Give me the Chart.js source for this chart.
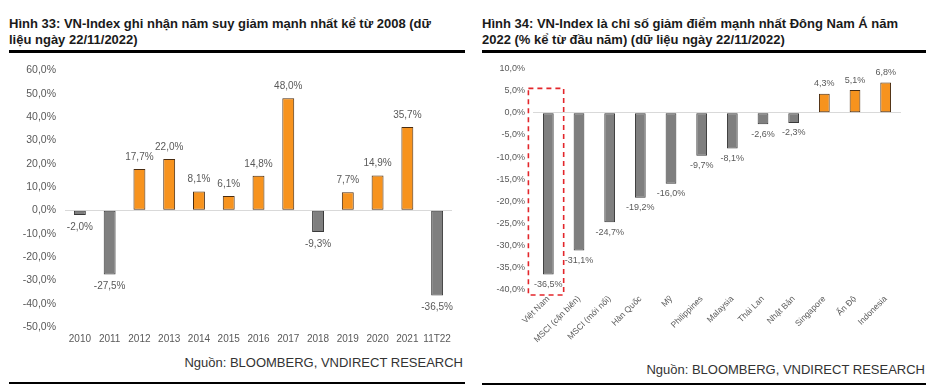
<!DOCTYPE html>
<html>
<head>
<meta charset="utf-8">
<script src="https://cdn.jsdelivr.net/npm/chart.js@4.4.0/dist/chart.umd.min.js"></script>
<style>
  html, body { margin: 0; padding: 0; background: #fff; }
  body { width: 933px; height: 387px; position: relative; overflow: hidden; font-family: "Liberation Sans", Arial, sans-serif; }
  .title { position: absolute; font-weight: bold; font-size: 13px; line-height: 16px; color: #1a1a1a; white-space: nowrap; }
  .rule { position: absolute; height: 3px; background: #000; }
  .thin { position: absolute; height: 1.5px; background: #000; }
  .src { position: absolute; font-size: 13px; color: #333; white-space: nowrap; text-align: right; }
  .box { position: absolute; }
</style>
</head>
<body>
<div class="title" style="left:9px; top:16px;">Hình 33: VN-Index ghi nhận năm suy giảm mạnh nhất kể từ 2008 (dữ<br>liệu ngày 22/11/2022)</div>
<div class="rule" style="left:9px; width:456px; top:50px;"></div>
<div class="title" style="left:482px; top:16px;">Hình 34: VN-Index là chỉ số giảm điểm mạnh nhất Đông Nam Á năm<br>2022 (% kể từ đầu năm) (dữ liệu ngày 22/11/2022)</div>
<div class="rule" style="left:482px; width:444px; top:50px;"></div>

<div class="box" style="left:0px; top:55px; width:470px; height:300px;"><canvas id="c1"></canvas></div>
<div class="box" style="left:470px; top:55px; width:463px; height:300px;"><canvas id="c2"></canvas></div>

<div class="src" style="right:470px; top:355px;">Nguồn: BLOOMBERG, VNDIRECT RESEARCH</div>
<div class="thin" style="left:9px; width:456px; top:382px;"></div>
<div class="src" style="right:8px; top:362px;">Nguồn: BLOOMBERG, VNDIRECT RESEARCH</div>
<div class="thin" style="left:482px; width:444px; top:383px;"></div>

<script>
// ---- Data: Hình 33 ----
const years = ["2010","2011","2012","2013","2014","2015","2016","2017","2018","2019","2020","2021","11T22"];
const vnIndexReturns = [-2.0, -27.5, 17.7, 22.0, 8.1, 6.1, 14.8, 48.0, -9.3, 7.7, 14.9, 35.7, -36.5];
const leftTicks = { min: -50, max: 60, step: 10 };

// ---- Data: Hình 34 ----
const markets = ["Việt Nam","MSCI (cận biên)","MSCI (mới nổi)","Hàn Quốc","Mỹ","Philippines","Malaysia","Thái Lan","Nhật Bản","Singapore","Ấn Độ","Indonesia"];
const ytdReturns = [-36.5, -31.1, -24.7, -19.2, -16.0, -9.7, -8.1, -2.6, -2.3, 4.3, 5.1, 6.8];
const rightTicks = { min: -40, max: 10, step: 5 };

const ORANGE = '#F7931E', ORANGE_B = '#4a2c10';
const GREY = '#7F7F7F', GREY_B = '#3a3a3a';
const TXT = '#595959';

function fmt(v) { return v.toFixed(1).replace('.', ',') + '%'; }

function labelPlugin(fontSize, gap) {
  return {
    id: 'valLabels',
    afterDatasetsDraw(chart) {
      const ctx = chart.ctx;
      const ds = chart.data.datasets[0];
      const meta = chart.getDatasetMeta(0);
      ctx.save();
      ctx.font = fontSize + 'px "Liberation Sans", Arial, sans-serif';
      ctx.fillStyle = TXT;
      ctx.textAlign = 'center';
      ctx.textBaseline = 'middle';
      meta.data.forEach((el, i) => {
        const v = ds.data[i];
        const y = v >= 0 ? el.y - gap : el.y + gap;
        ctx.fillText(fmt(v), el.x, y);
      });
      ctx.restore();
    }
  };
}

function zeroGrid(c) { return c.tick && c.tick.value === 0 ? '#d9d9d9' : 'rgba(0,0,0,0)'; }

// Chart 1
new Chart(document.getElementById('c1'), {
  type: 'bar',
  data: {
    labels: years,
    datasets: [{
      data: vnIndexReturns,
      backgroundColor: vnIndexReturns.map(v => v >= 0 ? ORANGE : GREY),
      borderColor: vnIndexReturns.map(v => v >= 0 ? ORANGE_B : GREY_B),
      borderWidth: 1,
      borderSkipped: false,
      categoryPercentage: 1,
      barPercentage: 0.4
    }]
  },
  options: {
    responsive: true, maintainAspectRatio: false, animation: false,
    layout: { padding: { top: 15, right: 18, bottom: 0, left: 0 } },
    plugins: { legend: { display: false }, tooltip: { enabled: false } },
    scales: {
      x: {
        grid: { display: false, drawTicks: false }, border: { display: false },
        ticks: { color: TXT, padding: 6, font: { size: 10, family: '"Liberation Sans", Arial' }, maxRotation: 0, autoSkip: false },
        afterFit(s) { s.height = 28; }
      },
      y: {
        min: leftTicks.min, max: leftTicks.max,
        grid: { color: zeroGrid, drawTicks: false, lineWidth: 1 }, border: { display: false },
        ticks: { stepSize: leftTicks.step, color: TXT, padding: 9, font: { size: 10.5, family: '"Liberation Sans", Arial' }, callback: v => fmt(v) },
        afterFit(s) { s.width = 65; }
      }
    }
  },
  plugins: [labelPlugin(10, 12)]
});

// Chart 2
const boxPlugin = {
  id: 'redBox',
  afterDraw(chart) {
    const x = chart.scales.x, y = chart.scales.y, ctx = chart.ctx;
    const cx = x.getPixelForValue(0);
    const cw = x.width / markets.length;
    const left = cx - cw * 0.65, right = cx + cw * 0.5;
    const top = y.getPixelForValue(5.5), bottom = chart.chartArea.bottom + 5;
    ctx.save();
    ctx.strokeStyle = '#E3262B';
    ctx.lineWidth = 1.6;
    ctx.setLineDash([5, 4]);
    ctx.strokeRect(left, top, right - left, bottom - top);
    ctx.restore();
  }
};

new Chart(document.getElementById('c2'), {
  type: 'bar',
  data: {
    labels: markets,
    datasets: [{
      data: ytdReturns,
      backgroundColor: ytdReturns.map(v => v >= 0 ? ORANGE : GREY),
      borderColor: ytdReturns.map(v => v >= 0 ? ORANGE_B : GREY_B),
      borderWidth: 1,
      borderSkipped: false,
      categoryPercentage: 1,
      barPercentage: 0.35
    }]
  },
  options: {
    responsive: true, maintainAspectRatio: false, animation: false,
    layout: { padding: { top: 11, right: 32, bottom: 0, left: 0 } },
    plugins: { legend: { display: false }, tooltip: { enabled: false } },
    scales: {
      x: {
        grid: { display: false, drawTicks: false }, border: { display: false },
        ticks: { color: TXT, padding: 4, font: { size: 8.5, family: '"Liberation Sans", Arial' }, minRotation: 45, maxRotation: 45, autoSkip: false },
        afterFit(s) { s.height = 65; }
      },
      y: {
        min: rightTicks.min, max: rightTicks.max,
        grid: { color: zeroGrid, drawTicks: false, lineWidth: 1 }, border: { display: false },
        ticks: { stepSize: rightTicks.step, color: TXT, padding: 8, font: { size: 9, family: '"Liberation Sans", Arial' }, callback: v => fmt(v) },
        afterFit(s) { s.width = 63; }
      }
    }
  },
  plugins: [labelPlugin(9, 10), boxPlugin]
});
</script>
</body>
</html>
